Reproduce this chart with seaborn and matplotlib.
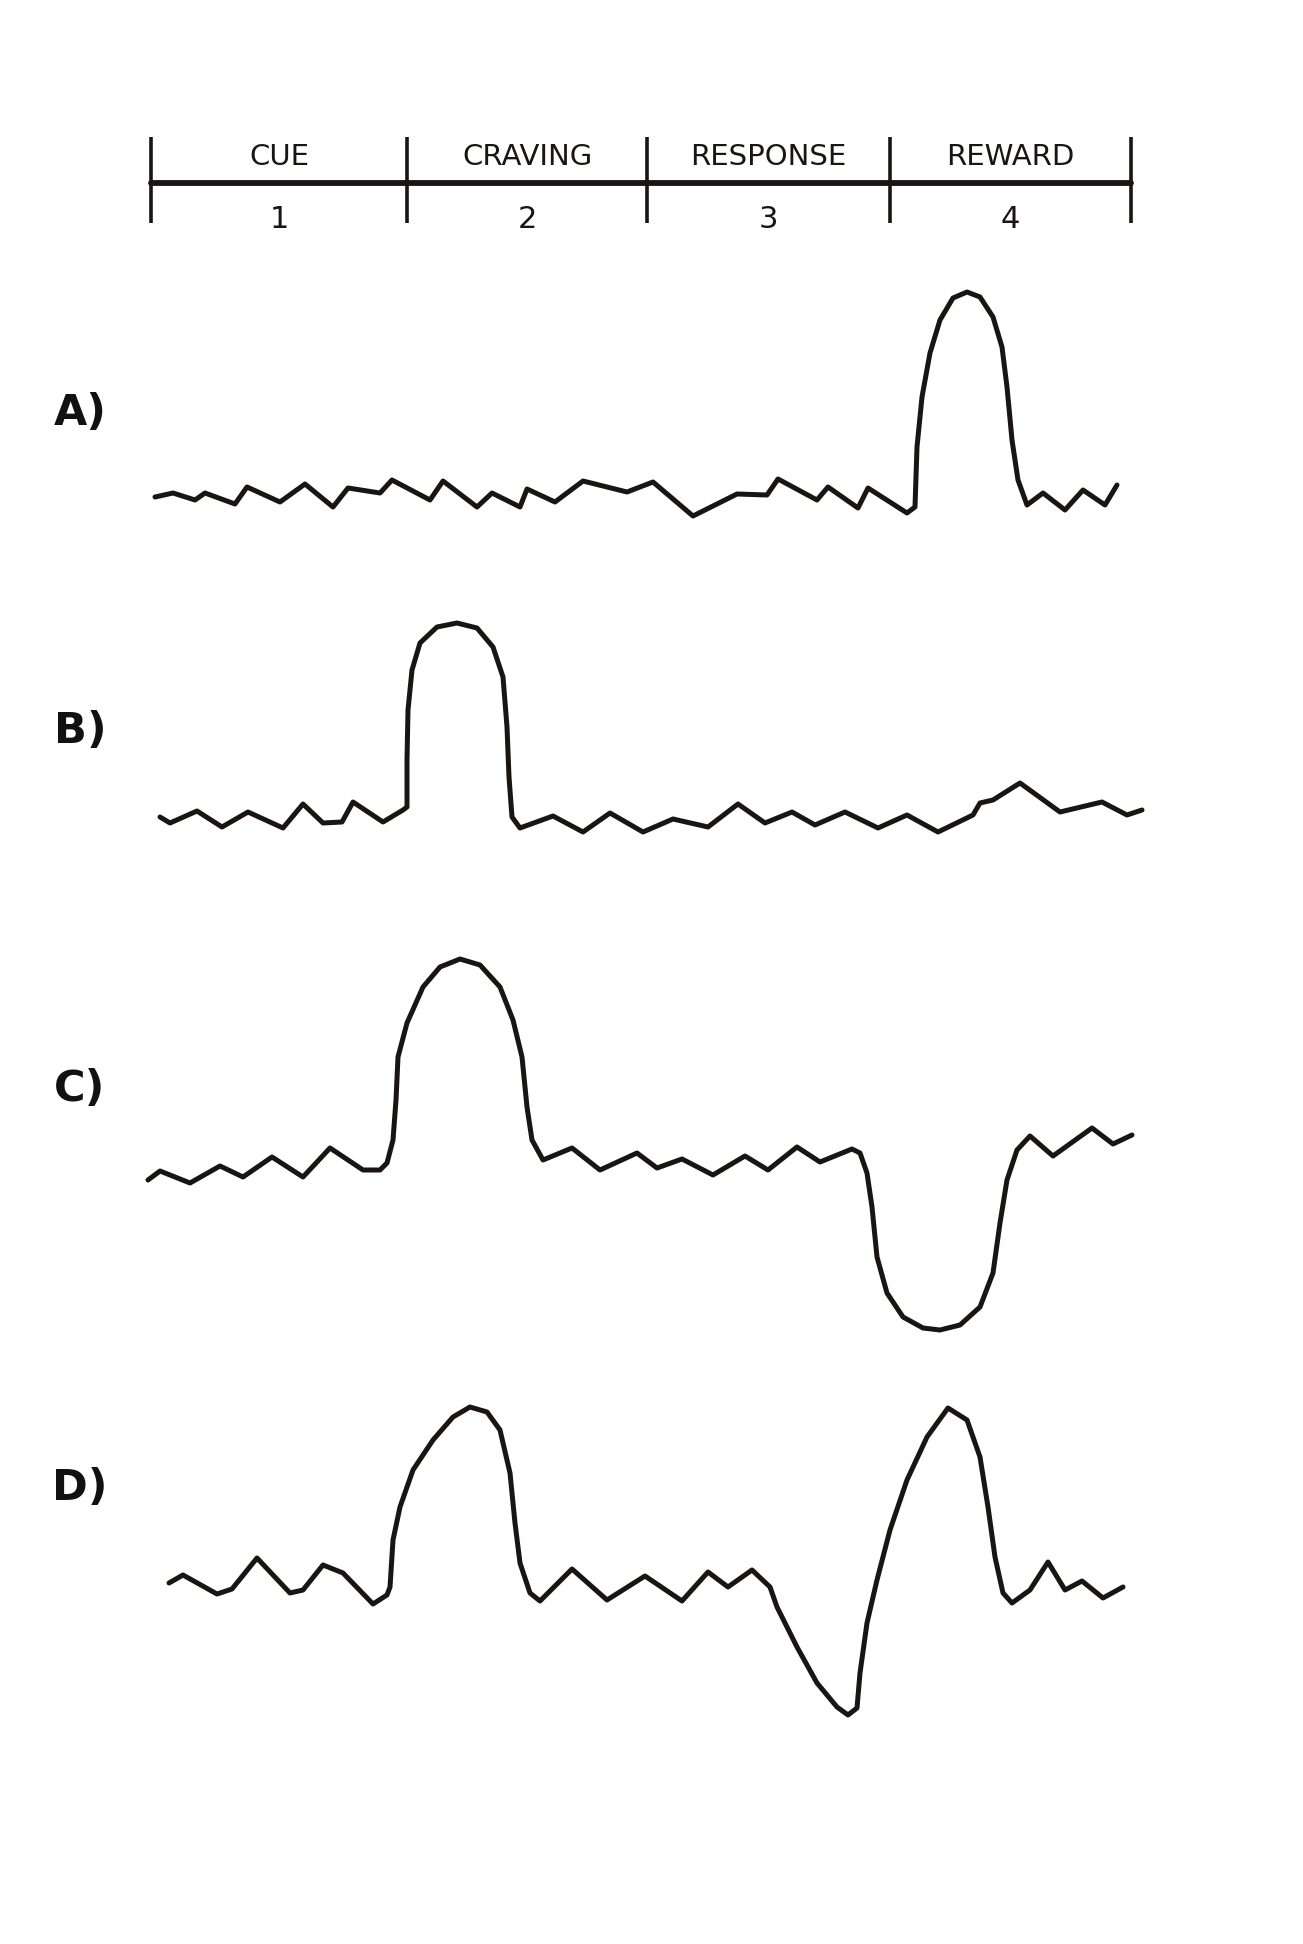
import matplotlib
matplotlib.use("Agg")
import matplotlib.pyplot as plt
import seaborn as sns
import pandas as pd

# ---------------- data ----------------
# time axis: arbitrary units, phase boundaries of the timeline
phase_bounds = [0, 256, 496, 739, 980]
phase_names = ["CUE", "CRAVING", "RESPONSE", "REWARD"]
phase_numbers = ["1", "2", "3", "4"]
panel_labels = ["A)", "B)", "C)", "D)"]

# Curve A: reward spike only
a_t = [4, 22, 44, 54, 84, 96, 129, 154, 182, 197, 229, 241, 279, 292, 326, 341, 369, 376,
       404, 432, 456, 476, 502, 542, 586, 616, 627, 666, 677, 707, 717, 756,
       764, 766, 771, 779, 789, 802, 816, 829, 842, 851, 856, 861, 867, 876,
       892, 914, 932, 954, 966]
a_y = [3, 7, 0, 7, -4, 13, -2, 16, -7, 12, 7, 20, 0, 19, -7, 7, -7, 11,
       -2, 19, 13, 8, 18, -16, 6, 5, 21, 0, 13, -8, 12, -13,
       -7, 53, 103, 147, 180, 202, 208, 203, 183, 153, 113, 60, 20, -5,
       7, -10, 10, -5, 15]

# Curve B: craving spike
b_t = [9, 19, 46, 71, 97, 132, 152, 172, 191, 202, 232, 252,
       256, 256, 257, 261, 269, 286, 306, 326, 342, 352, 356, 358, 361, 369,
       402, 432, 459, 492, 522, 557, 587, 614, 641, 664, 694, 727, 756, 787,
       822, 829, 842, 869, 909, 951, 976, 991]
b_y = [3, -3, 9, -7, 8, -8, 16, -3, -2, 18, -2, 10,
       13, 60, 110, 150, 177, 193, 197, 192, 173, 143, 93, 43, 3, -8,
       4, -12, 7, -12, 1, -7, 16, -3, 8, -5, 8, -8, 5, -12,
       5, 17, 20, 37, 8, 18, 5, 10]

# Curve C: craving spike, then dip at reward
c_t = [-3, 9, 39, 69, 92, 121, 152, 179, 212, 229,
       236, 242, 245, 247, 256, 272, 289, 309, 329, 349, 362, 371, 376, 381, 392,
       421, 449, 486, 506, 531, 562, 594, 617, 646, 669, 701,
       709, 716, 721, 726, 736, 752, 772, 789, 809, 829, 842, 849, 856, 866, 879,
       902, 941, 962, 981]
c_y = [-17, -8, -20, -3, -14, 6, -14, 15, -7, -7,
       0, 23, 63, 106, 140, 176, 196, 204, 198, 176, 143, 106, 56, 23, 3,
       15, -7, 10, -5, 4, -12, 7, -7, 16, 1, 14,
       10, -10, -44, -94, -130, -154, -165, -167, -162, -144, -110, -60, -17, 13, 27,
       7, 35, 19, 28]

# Curve D: craving spike, dip during response, spike at reward
d_t = [18, 32, 66, 81, 106, 139, 152, 172, 192, 222, 236,
       239, 242, 249, 262, 282, 302, 319, 336, 349, 359, 364, 369, 379, 389,
       421, 456, 494, 531, 557, 577, 601, 619,
       626, 646, 666, 686, 697, 706, 709, 716, 726, 739, 756, 776, 797, 816,
       829, 837, 844, 852, 861,
       879, 897, 914, 931, 952, 972]
d_y = [5, 13, -6, -1, 30, -5, -2, 23, 15, -16, -7,
       1, 48, 81, 118, 148, 171, 181, 176, 158, 115, 65, 25, -5, -13,
       19, -12, 12, -13, 16, 1, 18, 1,
       -19, -59, -95, -119, -127, -120, -85, -35, 8, 58, 108, 151, 180, 168,
       131, 81, 31, -5, -15,
       -2, 26, -2, 7, -10, 1]

series_t = [a_t, b_t, c_t, d_t]
series_y = [a_y, b_y, c_y, d_y]

# ---------------- layout / style ----------------
FIG_W, FIG_H = 1303, 1944
INK = "#1b1512"
X0_PX = 151           # pixel of time 0
XMIN, XMAX = -20, 1000
baselines = [500, 820, 1163, 1588]       # pixel row of each curve's zero
y_ranges = [(-40, 230), (-40, 220), (-190, 225), (-150, 200)]
label_px = [(80, 413), (80, 731), (80, 1089), (80, 1488)]

sns.set_style("white")
plt.rcParams["font.family"] = ["DejaVu Sans"]

fig = plt.figure(figsize=(FIG_W / 100, FIG_H / 100), dpi=100)
fig.patch.set_facecolor("white")

ax_left = (X0_PX + XMIN) / FIG_W
ax_width = (XMAX - XMIN) / FIG_W

# header timeline
hdr_top, hdr_bot = 120, 250
axh = fig.add_axes([ax_left, 1 - hdr_bot / FIG_H, ax_width, (hdr_bot - hdr_top) / FIG_H])
axh.set_xlim(XMIN, XMAX)
axh.set_ylim(hdr_bot, hdr_top)
axh.axis("off")
axh.hlines(183, phase_bounds[0], phase_bounds[-1], color=INK, lw=4.2, capstyle="round")
axh.vlines(phase_bounds, 137, 223, color=INK, lw=2.6)
for i, name in enumerate(phase_names):
    mid = (phase_bounds[i] + phase_bounds[i + 1]) / 2
    axh.text(mid, 157, name, ha="center", va="center", fontsize=21,
             color=INK, family=["Liberation Sans Narrow", "DejaVu Sans"])
    axh.text(mid, 219, phase_numbers[i], ha="center", va="center", fontsize=22,
             color=INK, family=["Liberation Sans Narrow", "DejaVu Sans"])

# curve panels
for k in range(4):
    lo, hi = y_ranges[k]
    b = baselines[k]
    top_px, bot_px = b - hi, b - lo
    ax = fig.add_axes([ax_left, 1 - bot_px / FIG_H, ax_width, (bot_px - top_px) / FIG_H])
    df = pd.DataFrame({"t": series_t[k], "amp": series_y[k]})
    sns.lineplot(data=df, x="t", y="amp", sort=False, estimator=None, ax=ax,
                 color=INK, lw=3.6, solid_joinstyle="round", solid_capstyle="round")
    ax.set_xlim(XMIN, XMAX)
    ax.set_ylim(lo, hi)
    ax.axis("off")
    lx, ly = label_px[k]
    fig.text(lx / FIG_W, 1 - ly / FIG_H, panel_labels[k], ha="center", va="center",
             fontsize=31, fontweight="bold", color="#111111",
             family=["Liberation Sans Narrow", "DejaVu Sans"])

fig.savefig("out.png", dpi=100, facecolor="white")
